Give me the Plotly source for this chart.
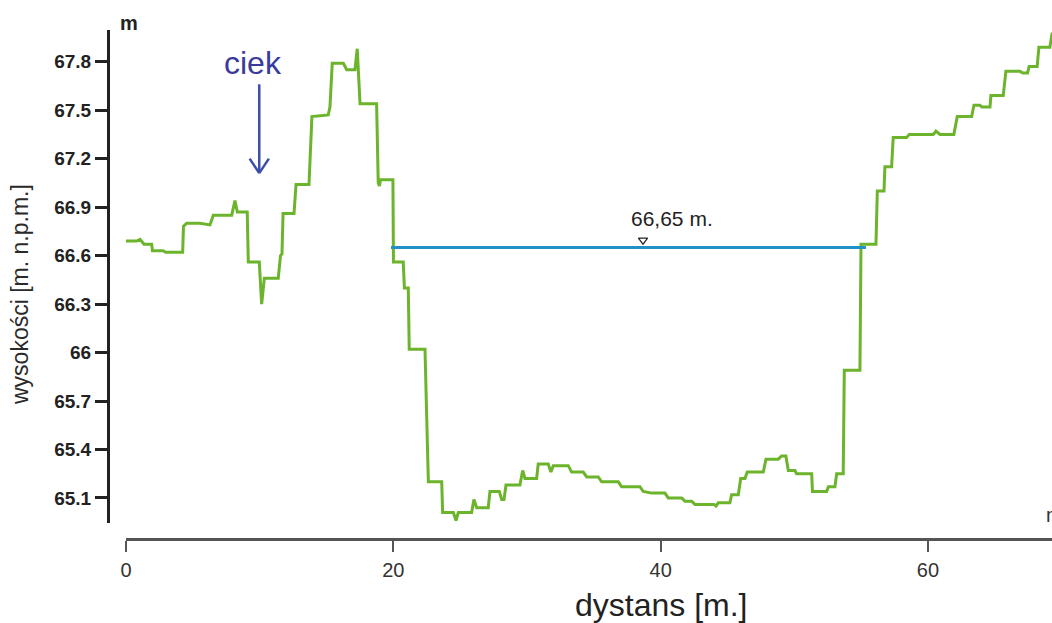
import plotly.graph_objects as go

# ---- data ----
dystans_m = [0.00, 0.80, 1.05, 1.35, 1.92, 1.98, 2.77, 2.97, 4.24, 4.30, 4.54, 5.54, 6.28, 6.53, 7.91,
             8.15, 8.33, 9.07, 9.15, 9.97, 10.15, 10.35, 11.39, 11.56, 11.67, 11.75, 12.57, 12.72, 13.69,
             13.80, 13.91, 15.13, 15.26, 15.43, 16.26, 16.51, 17.13, 17.30, 17.51, 18.75, 18.87, 18.96,
             19.04, 19.97, 20.01, 20.74, 20.83, 21.12, 21.19, 22.37, 22.50, 22.62, 23.62, 23.69, 24.49,
             24.69, 24.86, 25.86, 26.03, 26.24, 27.10, 27.23, 27.93, 28.11, 28.28, 28.43, 29.47, 29.68,
             29.85, 30.72, 30.84, 31.59, 31.79, 31.97, 33.09, 33.34, 34.21, 34.47, 35.33, 35.59, 36.83,
             37.08, 38.45, 38.70, 39.33, 40.32, 40.57, 41.57, 41.82, 42.32, 42.57, 43.99, 44.14, 44.31,
             45.18, 45.31, 45.81, 45.99, 46.31, 46.48, 47.68, 47.88, 48.80, 49.05, 49.37, 49.55, 50.05,
             50.17, 51.30, 51.36, 52.42, 52.55, 53.04, 53.17, 53.66, 53.74, 54.91, 54.99, 56.11, 56.21,
             56.71, 56.78, 57.28, 57.40, 58.40, 58.60, 60.39, 60.60, 60.90, 61.94, 62.19, 63.27, 63.44,
             63.89, 64.04, 64.64, 64.71, 65.63, 65.83, 66.88, 67.10, 67.45, 67.57, 68.17, 68.30, 69.12,
             69.30]
wysokosc_m = [66.69, 66.69, 66.70, 66.67, 66.67, 66.63, 66.63, 66.62, 66.62, 66.78, 66.80, 66.80, 66.79,
              66.85, 66.85, 66.94, 66.87, 66.87, 66.56, 66.56, 66.30, 66.46, 66.46, 66.60, 66.61, 66.86,
              66.86, 67.04, 67.04, 67.27, 67.46, 67.47, 67.52, 67.79, 67.79, 67.75, 67.75, 67.88, 67.54,
              67.54, 67.05, 67.03, 67.07, 67.07, 66.56, 66.56, 66.40, 66.40, 66.02, 66.02, 65.56, 65.20,
              65.20, 65.01, 65.01, 64.96, 65.01, 65.01, 65.09, 65.04, 65.04, 65.14, 65.14, 65.09, 65.09,
              65.18, 65.18, 65.27, 65.22, 65.22, 65.31, 65.31, 65.26, 65.30, 65.30, 65.26, 65.26, 65.23,
              65.23, 65.20, 65.20, 65.17, 65.17, 65.14, 65.13, 65.13, 65.10, 65.10, 65.08, 65.08, 65.06,
              65.06, 65.05, 65.07, 65.07, 65.12, 65.12, 65.22, 65.22, 65.26, 65.26, 65.34, 65.34, 65.36,
              65.36, 65.27, 65.27, 65.25, 65.25, 65.14, 65.14, 65.17, 65.17, 65.25, 65.25, 65.89, 65.89,
              66.67, 66.67, 67.00, 67.00, 67.15, 67.15, 67.33, 67.33, 67.35, 67.35, 67.37, 67.35, 67.35,
              67.46, 67.46, 67.53, 67.53, 67.52, 67.52, 67.59, 67.59, 67.74, 67.74, 67.73, 67.73, 67.77,
              67.77, 67.89, 67.89, 67.98]

poziom_wody = 66.65
woda_od_do = [19.83, 55.36]
y_ticks = [65.1, 65.4, 65.7, 66.0, 66.3, 66.6, 66.9, 67.2, 67.5, 67.8]
y_tick_labels = ["65.1", "65.4", "65.7", "66", "66.3", "66.6", "66.9", "67.2", "67.5", "67.8"]
x_ticks = [0, 20, 40, 60]
x_tick_labels = ["0", "20", "40", "60"]

W, H = 1052, 623
FONT = "Liberation Sans, Arial, sans-serif"
GREEN = "#6cb42c"
BLUE = "#2190c6"

def px_x(p):
    return p / W

def px_y(p):
    return 1 - p / H

fig = go.Figure()

fig.add_trace(go.Scatter(x=dystans_m, y=wysokosc_m, mode="lines",
                         line=dict(color=GREEN, width=3), hoverinfo="skip", showlegend=False))

fig.add_trace(go.Scatter(x=woda_od_do, y=[poziom_wody, poziom_wody], mode="lines",
                         line=dict(color=BLUE, width=3), hoverinfo="skip", showlegend=False))

# water-level triangle symbol
tri_x = 38.68
fig.add_trace(go.Scatter(x=[tri_x], y=[poziom_wody + 0.045], mode="markers",
                         marker=dict(symbol="triangle-down-open", size=8,
                                     color="#222", line=dict(width=1.2, color="#222")),
                         hoverinfo="skip", showlegend=False))

fig.add_annotation(x=40.85, y=66.83, xref="x", yref="y", text="66,65 m.", showarrow=False,
                   xanchor="center", yanchor="middle",
                   font=dict(family=FONT, size=21, color="#222"))

# 'ciek' label with arrow
ciek_x = 9.97
fig.add_annotation(x=px_x(253), y=px_y(63), xref="paper", yref="paper", text="ciek",
                   showarrow=False, xanchor="center", yanchor="middle",
                   font=dict(family=FONT, size=32, color="#3a3a9e"))
ARROW = "#3b4fa9"
fig.add_shape(type="line", x0=ciek_x, x1=ciek_x, y0=67.66, y1=67.11, xref="x", yref="y",
              line=dict(color=ARROW, width=2.5))
fig.add_shape(type="line", x0=ciek_x - 0.72, x1=ciek_x, y0=67.20, y1=67.11, xref="x", yref="y",
              line=dict(color=ARROW, width=2.5))
fig.add_shape(type="line", x0=ciek_x + 0.72, x1=ciek_x, y0=67.20, y1=67.11, xref="x", yref="y",
              line=dict(color=ARROW, width=2.5))

# unit labels
fig.add_annotation(x=px_x(118), y=px_y(23), xref="paper", yref="paper", text="m",
                   showarrow=False, xanchor="left", yanchor="middle",
                   font=dict(family=FONT, size=20, color="#222", weight="bold"))
fig.add_annotation(x=px_x(1044), y=px_y(515), xref="paper", yref="paper", text="m",
                   showarrow=False, xanchor="left", yanchor="middle",
                   font=dict(family=FONT, size=20, color="#333"))

# axis titles
fig.add_annotation(x=px_x(20), y=px_y(295), xref="paper", yref="paper",
                   text="wysokości [m. n.p.m.]", textangle=-90, showarrow=False,
                   xanchor="center", yanchor="middle",
                   font=dict(family=FONT, size=23, color="#2a2a2a"))
fig.add_annotation(x=px_x(661), y=px_y(605), xref="paper", yref="paper",
                   text="dystans [m.]", showarrow=False, xanchor="center", yanchor="middle",
                   font=dict(family=FONT, size=32, color="#222"))

fig.update_layout(
    width=W, height=H,
    margin=dict(l=0, r=0, t=0, b=0, pad=0, autoexpand=False),
    paper_bgcolor="white", plot_bgcolor="white",
    showlegend=False,
    xaxis=dict(domain=[126 / W, 1.0], range=[0, 69.28], anchor="free", position=1 - 539.3 / H,
               automargin=False,
               showline=True, linecolor="#555", linewidth=2.5, ticks="outside", ticklen=11,
               tickwidth=2, tickcolor="#555", tickvals=x_ticks, ticktext=x_tick_labels,
               tickfont=dict(family=FONT, size=20, color="#333"), ticklabelstandoff=1,
               showgrid=False, zeroline=False),
    yaxis=dict(domain=[1 - 523 / H, 1 - 30 / H], range=[64.945, 67.996], anchor="free",
               position=108 / W, automargin=False,
               showline=True, linecolor="#222", linewidth=3, ticks="outside",
               ticklen=12, tickwidth=2.5, tickcolor="#222", tickvals=y_ticks, ticktext=y_tick_labels,
               tickfont=dict(family=FONT, size=19, color="#222", weight="bold"),
               showgrid=False, zeroline=False),
)

fig.write_html("out.html", config={"displayModeBar": False},
               post_script="document.body.style.margin='0';document.body.style.overflow='hidden';")
